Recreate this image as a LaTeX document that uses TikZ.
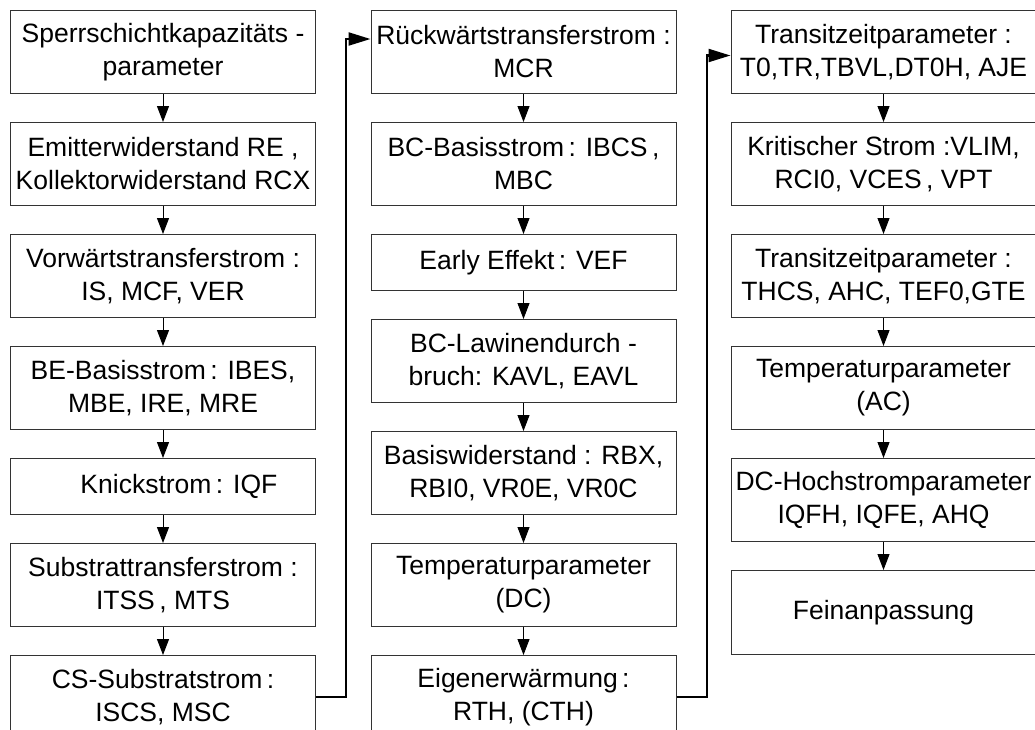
\documentclass[tikz,border=0pt]{standalone}
\usepackage{fontspec}
\setmainfont{Liberation Sans}
\usetikzlibrary{arrows.meta}

\begin{document}
\begin{tikzpicture}[x=1pt,y=1pt]

\tikzstyle{block}=[draw={black!80},rectangle,line width={1pt},minimum width={305pt},minimum height={83pt},inner sep={0pt},align={center},font={\fontsize{26.5pt}{33pt}\selectfont}]
\tikzstyle{flat}=[block,minimum height={56pt}]
\tikzstyle{down}=[-{Triangle[length=16pt,width=12pt]},line width={1pt}]
\tikzstyle{jump}=[-{Triangle[length=22pt,width=13pt]},line width={2.2pt}]

\useasboundingbox (0,0) rectangle (1035,-729);
\clip (0,0) rectangle (1035,-729);

% column 1: nodes

\node at (10,-10) [block,anchor={north west}] (A1) {Sperrschichtkapazitäts -\\parameter} ;
\node at ([shift={(0pt,-28pt)}] A1.south) [block,anchor={north}] (A2) {Emitterwiderstand RE ,\\Kollektorwiderstand RCX} ;
\node at ([shift={(0pt,-28pt)}] A2.south) [block,anchor={north}] (A3) {Vorwärtstransferstrom :\\IS, MCF, VER} ;
\node at ([shift={(0pt,-28pt)}] A3.south) [block,anchor={north}] (A4) {BE-Basisstrom\,: IBES,\\MBE, IRE, MRE} ;
\node at ([shift={(0pt,-28pt)}] A4.south) [flat,anchor={north}] (A5) {\hspace{1.2em}Knickstrom\,: IQF} ;
\node at ([shift={(0pt,-28pt)}] A5.south) [block,anchor={north}] (A6) {Substrattransferstrom :\\ITSS\,, MTS} ;
\node at ([shift={(0pt,-28pt)}] A6.south) [block,anchor={north}] (A7) {CS-Substratstrom\,:\\ISCS, MSC} ;

% column 2: nodes

\node at (370.5,-10) [block,anchor={north west}] (B1) {Rückwärtstransferstrom :\\MCR} ;
\node at ([shift={(0pt,-28pt)}] B1.south) [block,anchor={north}] (B2) {BC-Basisstrom\,: IBCS\,,\\MBC} ;
\node at ([shift={(0pt,-28pt)}] B2.south) [flat,anchor={north}] (B3) {Early Effekt\,: VEF} ;
\node at ([shift={(0pt,-28pt)}] B3.south) [block,anchor={north}] (B4) {BC-Lawinendurch -\\bruch: KAVL, EAVL} ;
\node at ([shift={(0pt,-28pt)}] B4.south) [block,anchor={north}] (B5) {Basiswiderstand : RBX,\\RBI0, VR0E, VR0C} ;
\node at ([shift={(0pt,-28pt)}] B5.south) [block,anchor={north}] (B6) {Temperaturparameter\\(DC)} ;
\node at ([shift={(0pt,-28pt)}] B6.south) [block,anchor={north}] (B7) {Eigenerwärmung\,:\\RTH, (CTH)} ;

% column 3: nodes

\node at (730.5,-10) [block,anchor={north west}] (C1) {Transitzeitparameter :\\T0,TR,TBVL,DT0H, AJE} ;
\node at ([shift={(0pt,-28pt)}] C1.south) [block,anchor={north}] (C2) {Kritischer Strom :VLIM,\\RCI0, VCES\,, VPT} ;
\node at ([shift={(0pt,-28pt)}] C2.south) [block,anchor={north}] (C3) {Transitzeitparameter :\\THCS, AHC, TEF0,GTE} ;
\node at ([shift={(0pt,-28pt)}] C3.south) [block,anchor={north}] (C4) {Temperaturparameter\hspace{0.6em}\\(AC)} ;
\node at ([shift={(0pt,-28pt)}] C4.south) [block,anchor={north}] (C5) {DC-Hochstromparameter\\IQFH, IQFE, AHQ} ;
\node at ([shift={(0pt,-28pt)}] C5.south) [block,anchor={north},minimum height={84pt}] (C6) {Feinanpassung} ;

% connections: down the columns

\draw [down] (A1.south) -- (A2.north) ;
\draw [down] (A2.south) -- (A3.north) ;
\draw [down] (A3.south) -- (A4.north) ;
\draw [down] (A4.south) -- (A5.north) ;
\draw [down] (A5.south) -- (A6.north) ;
\draw [down] (A6.south) -- (A7.north) ;

\draw [down] (B1.south) -- (B2.north) ;
\draw [down] (B2.south) -- (B3.north) ;
\draw [down] (B3.south) -- (B4.north) ;
\draw [down] (B4.south) -- (B5.north) ;
\draw [down] (B5.south) -- (B6.north) ;
\draw [down] (B6.south) -- (B7.north) ;

\draw [down] (C1.south) -- (C2.north) ;
\draw [down] (C2.south) -- (C3.north) ;
\draw [down] (C3.south) -- (C4.north) ;
\draw [down] (C4.south) -- (C5.north) ;
\draw [down] (C5.south) -- (C6.north) ;

% connections: column to column

\draw [jump] (A7.east) -- ++(30pt,0pt) |- ([shift={(0pt,+13pt)}] B1.west) ;
\draw [jump] (B7.east) -- ++(30.5pt,0pt) |- ([shift={(0pt,-3.5pt)}] C1.west) ;

\end{tikzpicture}
\end{document}
